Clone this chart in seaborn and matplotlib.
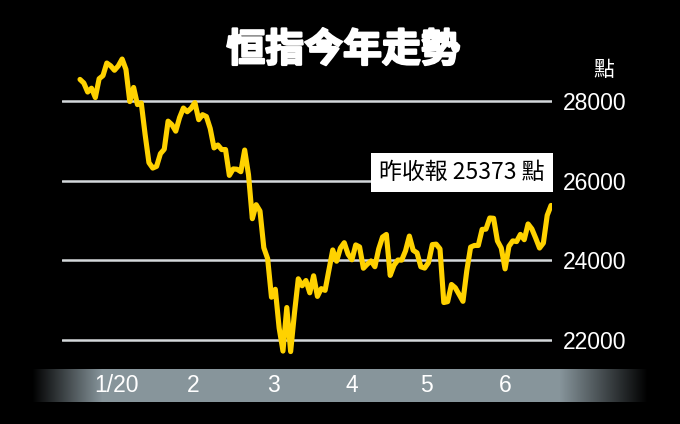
import numpy as np
import pandas as pd
import matplotlib
matplotlib.use("Agg")
import matplotlib.pyplot as plt
import matplotlib.patheffects as pe
import seaborn as sns
from matplotlib.transforms import blended_transform_factory

# ---------------- data ----------------
title = "恒指今年走勢"
unit_label = "點"
note = "昨收報 25373 點"
month_labels = ["1/20", "2", "3", "4", "5", "6"]
days_per_month = [20, 20, 22, 19, 20, 21]          # trading days per month
y_ticks = [22000, 24000, 26000, 28000]

jan = [28543, 28452, 28226, 28322, 28087, 28561, 28638, 28955, 28885, 28773,
       28883, 29056, 28795, 27985, 28341, 27909, 27950, 27160, 26449, 26313]
feb = [26356, 26675, 26786, 27493, 27404, 27241, 27583, 27823, 27730, 27816,
       27960, 27530, 27656, 27609, 27309, 26820, 26893, 26778, 26779, 26129]
mar = [26291, 26284, 26222, 26767, 26146, 25040, 25392, 25232, 24309, 24033,
       23064, 23263, 22291, 21709, 22805, 21696, 22663, 23527, 23352, 23484,
       23175, 23603]
apr = [23085, 23280, 23236, 23749, 24253, 23970, 24300, 24435, 24145, 24006,
       24380, 24330, 23793, 23893, 23977, 23831, 24280, 24577, 24643]
may = [23613, 23868, 24000, 23997, 24230, 24602, 24245, 24180, 23829, 23797,
       23934, 24388, 24399, 24280, 22930, 22952, 23384, 23301, 23132, 22961]
jun = [23732, 24325, 24366, 24366, 24770, 24776, 25057, 25049, 24480, 24301,
       23777, 24344, 24481, 24464, 24644, 24511, 24907, 24781, 24549, 24301,
       24427]
jul = [25124, 25373]

close = jan + feb + mar + apr + may + jun + jul
df = pd.DataFrame({"day": np.arange(len(close)), "close": close})

# ---------------- style ----------------
sns.set_theme(style="dark")
plt.rcParams["font.family"] = ["Noto Sans CJK TC", "DejaVu Sans"]
BG = "black"
GOLD = "#FFD200"
GRID = "#d4d8db"

fig = plt.figure(figsize=(6.8, 4.24), dpi=100, facecolor=BG)
W, H = 680, 424

# gradient band behind month labels
band = fig.add_axes([32 / W, (H - 402) / H, 616 / W, 33 / H])
n = 616
px = np.arange(n)
alpha = np.clip(np.minimum(px / 70.0, (n - 1 - px) / 88.0), 0, 1)
base = np.array([0.53, 0.585, 0.61])
img = (base[None, :] * alpha[:, None])[None, :, :]
band.imshow(img, aspect="auto", extent=[0, 1, 0, 1], interpolation="bilinear")
band.set_xlim(0, 1)
band.set_ylim(0, 1)
band.axis("off")

# main axes
ax = fig.add_axes([62 / W, (H - 369) / H, 490 / W, 369 / H])
ax.set_facecolor("none")
sns.lineplot(data=df, x="day", y="close", ax=ax, color=GOLD, linewidth=3.7,
             solid_joinstyle="round", solid_capstyle="round", zorder=3)

ax.set_xlim(-4.7, 123.25)
ax.set_ylim(21258, 30541)
ax.set_xlabel("")
ax.set_ylabel("")
for s in ax.spines.values():
    s.set_visible(False)

# y gridlines and right-side labels
ax.set_yticks(y_ticks)
ax.set_yticklabels([str(v) for v in y_ticks])
ax.yaxis.tick_right()
ax.tick_params(axis="y", length=0, pad=8, labelsize=16.5, labelcolor="white",
               labelfontfamily="Liberation Sans")
ax.grid(axis="y", color=GRID, linewidth=1.8, zorder=1)
ax.grid(axis="x", visible=False)

# month boundary ticks
bounds = np.cumsum(days_per_month) - 0.5
ax.set_xticks(bounds)
ax.tick_params(axis="x", direction="in", length=9.5, width=2.3, color="white",
               labelbottom=False)

# month labels centred in each month
starts = np.concatenate([[-0.5], bounds[:-1]])
centers = (starts + bounds) / 2
trans = blended_transform_factory(ax.transData, band.transAxes)
for c, lab in zip(centers, month_labels):
    band.text(c, 0.5, lab, transform=trans, ha="center", va="center",
              color="white", fontsize=16.5, family="Liberation Sans")

# annotation box
ax.text(0.816, 0.533, note, transform=ax.transAxes, ha="center", va="center",
        fontsize=16.5, color="black", zorder=5, clip_on=False,
        bbox=dict(boxstyle="square,pad=0.36", fc="white", ec="none"))

# title and unit
fig.text(343 / W, 1 - 50 / H, title, ha="center", va="center", color="white",
         fontsize=28, fontweight="bold",
         path_effects=[pe.withStroke(linewidth=1.6, foreground="white")])
fig.text(604 / W, 1 - 70 / H, unit_label, ha="center", va="center",
         color="white", fontsize=15)

fig.savefig("out.png", dpi=100, facecolor=BG)
